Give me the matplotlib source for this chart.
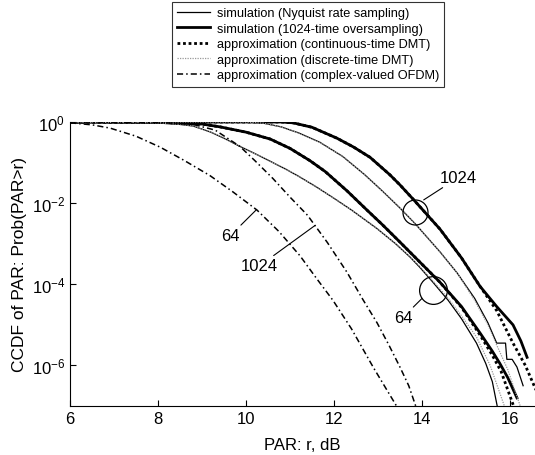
import numpy as np
import matplotlib
matplotlib.use("Agg")
import matplotlib.pyplot as plt

plt.rcParams['font.family'] = ['Liberation Sans', 'DejaVu Sans']

# ---- data (PAR in dB, log10 of CCDF) ----
nyq64_x = [6, 8, 8.5, 8.8, 9.2, 9.5, 9.86, 10.3, 10.9, 11.2, 11.6, 12.0, 12.4, 12.97, 13.4, 13.73,
           13.95, 14.25, 14.6, 14.9, 15.24, 15.45, 15.6, 15.72]
nyq64_lg = [0, -0.02, -0.06, -0.1, -0.25, -0.4, -0.6, -0.83, -1.16, -1.34, -1.6, -1.88, -2.17, -2.62,
            -3.0, -3.33, -3.58, -3.95, -4.4, -4.85, -5.45, -5.95, -6.4, -7.05]

dis64_x = [6, 8, 8.5, 8.8, 9.2, 9.5, 9.86, 10.3, 10.9, 11.2, 11.6, 12.0, 12.4, 12.97, 13.4, 13.73,
           13.95, 14.25, 14.6, 14.9, 15.24, 15.55, 15.89]
dis64_lg = [0, -0.02, -0.06, -0.1, -0.25, -0.4, -0.6, -0.83, -1.16, -1.34, -1.6, -1.88, -2.17, -2.62,
            -3.0, -3.32, -3.56, -3.92, -4.35, -4.78, -5.3, -6.0, -7.05]

os64_x = [6, 8, 9, 9.41, 10, 10.55, 11.0, 11.45, 11.8, 12.3, 12.74, 13.1, 13.5, 13.95, 14.41, 14.9,
          15.32, 15.6, 15.77, 15.95, 16.16]
os64_lg = [0, -0.01, -0.05, -0.12, -0.25, -0.42, -0.65, -0.95, -1.22, -1.7, -2.16, -2.53, -2.96,
           -3.45, -3.95, -4.55, -5.2, -5.65, -5.95, -6.3, -6.8]

ct64_x = [6, 8, 9, 9.41, 10, 10.55, 11.0, 11.45, 11.8, 12.3, 12.74, 13.1, 13.5, 13.95, 14.41, 14.9,
          15.32, 15.6, 15.8, 16.1]
ct64_lg = [0, -0.01, -0.05, -0.12, -0.25, -0.42, -0.65, -0.95, -1.22, -1.7, -2.16, -2.53, -2.96,
           -3.45, -3.95, -4.57, -5.25, -5.75, -6.15, -7.05]

nyq1024_x = [6, 10, 10.4, 10.8, 11.2, 11.68, 12.2, 12.7, 13.1, 13.5, 13.84, 14.41, 14.8, 15.2, 15.5,
             15.7, 15.9, 15.93, 16.05, 16.16, 16.3]
nyq1024_lg = [0, 0, -0.03, -0.12, -0.27, -0.5, -0.85, -1.3, -1.7, -2.12, -2.5, -3.2, -3.72, -4.35,
              -4.95, -5.45, -5.45, -5.85, -5.85, -6.04, -6.5]

dis1024_x = [6, 10, 10.4, 10.8, 11.2, 11.68, 12.2, 12.7, 13.1, 13.5, 13.84, 14.41, 14.8, 15.2, 15.5,
             15.7, 15.95, 16.25]
dis1024_lg = [0, 0, -0.03, -0.12, -0.27, -0.5, -0.85, -1.3, -1.7, -2.12, -2.5, -3.2, -3.72, -4.4,
              -5.0, -5.5, -6.1, -7.05]

os1024_x = [6, 10.8, 11.07, 11.5, 12.07, 12.45, 12.82, 13.27, 13.5, 13.84, 14.41, 14.9, 15.32, 15.7,
            16.07, 16.25, 16.39]
os1024_lg = [0, 0, -0.02, -0.13, -0.4, -0.62, -0.87, -1.3, -1.55, -1.95, -2.64, -3.35, -4.05, -4.55,
             -5.0, -5.4, -5.8]

ct1024_x = [6, 10.8, 11.07, 11.5, 12.07, 12.45, 12.82, 13.27, 13.5, 13.84, 14.41, 14.9, 15.32, 15.7,
            16.07, 16.35, 16.57, 16.8]
ct1024_lg = [0, 0, -0.02, -0.13, -0.4, -0.62, -0.87, -1.3, -1.55, -1.95, -2.64, -3.35, -4.05, -4.65,
             -5.45, -6.0, -6.55, -7.1]

ofdm64_x = [6, 6.5, 6.91, 7.5, 8.05, 8.6, 9.18, 9.7, 10.25, 10.75, 11.23, 11.6, 11.98, 12.4, 12.89,
            13.2, 13.45]
ofdm64_lg = [-0.02, -0.07, -0.15, -0.35, -0.62, -0.95, -1.32, -1.72, -2.17, -2.7, -3.3, -3.85, -4.4,
             -5.1, -6.04, -6.6, -7.05]

ofdm1024_x = [6, 8, 8.8, 9.3, 9.86, 10.2, 10.61, 11.0, 11.4, 11.85, 12.3, 12.66, 12.98, 13.25, 13.5,
              13.7, 13.89]
ofdm1024_lg = [0, -0.01, -0.06, -0.2, -0.6, -0.95, -1.39, -1.85, -2.3, -2.97, -3.71, -4.38, -4.95,
               -5.5, -6.04, -6.5, -7.1]

legend_labels = ["simulation (Nyquist rate sampling)",
                 "simulation (1024-time oversampling)",
                 "approximation (continuous-time DMT)",
                 "approximation (discrete-time DMT)",
                 "approximation (complex-valued OFDM)"]

def p(lg):
    return 10.0 ** np.asarray(lg)

fig = plt.figure(figsize=(5.35, 4.56), dpi=100)
ax = fig.add_axes([70/535, 49/456, 465/535, 284/456])

thin = dict(color='black', lw=0.9)
grey = dict(color='0.6', lw=0.9, linestyle=(0, (1, 1)))
thick = dict(color='black', lw=2.0)
dotted = dict(color='black', lw=2.0, linestyle=(0, (1, 1)))
dashdot = dict(color='black', lw=1.1, linestyle=(0, (4, 2, 1, 2)))

h1, = ax.plot(nyq64_x, p(nyq64_lg), **thin)
ax.plot(nyq1024_x, p(nyq1024_lg), **thin)
h2, = ax.plot(os64_x, p(os64_lg), **thick)
ax.plot(os1024_x, p(os1024_lg), **thick)
h3, = ax.plot(ct64_x, p(ct64_lg), **dotted)
ax.plot(ct1024_x, p(ct1024_lg), **dotted)
h4, = ax.plot(dis64_x, p(dis64_lg), **grey)
ax.plot(dis1024_x, p(dis1024_lg), **grey)
h5, = ax.plot(ofdm64_x, p(ofdm64_lg), **dashdot)
ax.plot(ofdm1024_x, p(ofdm1024_lg), **dashdot)

ax.set_yscale('log')
ax.set_xlim(6, 16.57)
ax.set_ylim(1e-7, 1.0)
ax.set_xticks([6, 8, 10, 12, 14, 16])
ax.set_yticks([1e0, 1e-2, 1e-4, 1e-6])
ax.yaxis.set_minor_locator(matplotlib.ticker.NullLocator())
ax.tick_params(direction='in', length=4, labelsize=12, width=0.8)
ax.spines['top'].set_visible(False)
ax.spines['right'].set_visible(False)
ax.set_xlabel("PAR: r, dB", fontsize=12, labelpad=8)
ax.set_ylabel("CCDF of PAR: Prob(PAR>r)", fontsize=12.5, labelpad=3)

# circles
ax.plot([13.84], [10**-2.22], marker='o', ms=18, mfc='none', mec='black', mew=0.9, clip_on=False)
ax.plot([14.25], [10**-4.15], marker='o', ms=20, mfc='none', mec='black', mew=0.9, clip_on=False)

ann = dict(arrowprops=dict(arrowstyle='-', color='black', lw=0.8, shrinkA=0, shrinkB=0), fontsize=12)
ax.annotate("1024", xy=(14.04, 10**-1.92), xytext=(14.41, 10**-1.55), ha='left', va='bottom', **ann)
ax.annotate("64", xy=(14.0, 10**-4.35), xytext=(13.78, 10**-4.63), ha='right', va='top', **ann)
ax.annotate("64", xy=(10.23, 10**-2.17), xytext=(9.86, 10**-2.61), ha='right', va='top', **ann)
ax.annotate("1024", xy=(11.57, 10**-2.55), xytext=(10.73, 10**-3.36), ha='right', va='top', **ann)

leg = ax.legend([h1, h2, h3, h4, h5], legend_labels, loc='upper left',
                bbox_to_anchor=(172/535, 1 - 3/456), bbox_transform=fig.transFigure,
                fontsize=9.2, frameon=True, fancybox=False, edgecolor='black',
                handlelength=2.6, labelspacing=0.28, borderpad=0.4, handletextpad=0.5,
                borderaxespad=0)
leg.get_frame().set_linewidth(0.8)

fig.savefig("out.png", dpi=100)
